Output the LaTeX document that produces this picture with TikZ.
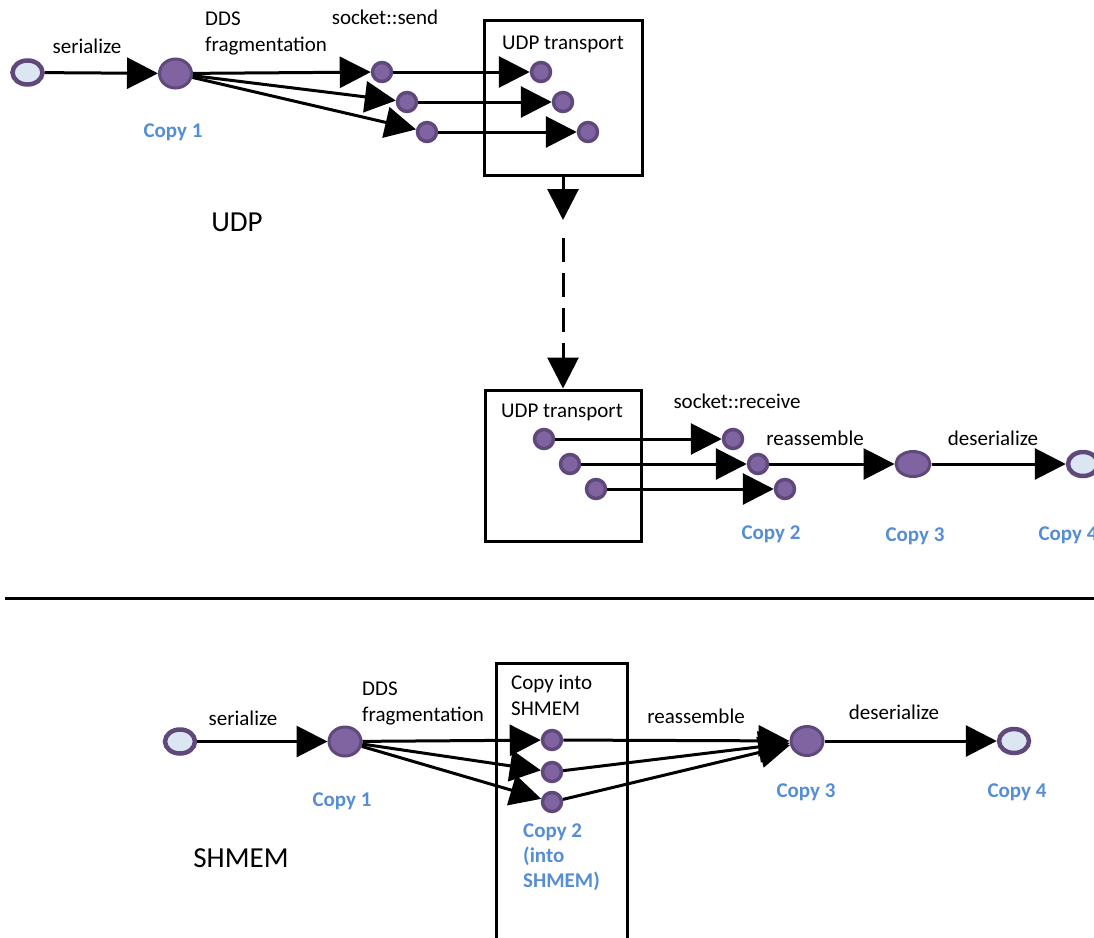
\documentclass[tikz,border=0pt]{standalone}
\usepackage{fontspec}
\setmainfont{Carlito}
\usetikzlibrary{arrows.meta,shapes.geometric}
\definecolor{pfill}{HTML}{8064A2}
\definecolor{pline}{HTML}{5F497A}
\definecolor{lfill}{HTML}{DCE6F2}
\definecolor{cblue}{HTML}{558ED5}
\begin{document}
\begin{tikzpicture}[x=1pt,y=-1pt,
  lbl/.style={font=\fontsize{21}{26}\selectfont, inner sep=0pt},
  cpy/.style={font=\fontsize{21}{25}\selectfont\bfseries, text=cblue, inner sep=0pt},
  bigtxt/.style={font=\fontsize{29}{34}\selectfont, inner sep=0pt},
  endpt/.style={ellipse, draw=pline, fill=lfill, line width=4.5pt, minimum width=30pt, minimum height=24pt, inner sep=0pt},
  bignode/.style={ellipse, draw=pline, fill=pfill, line width=3pt, minimum width=32pt, minimum height=29pt, inner sep=0pt},
  frag/.style={circle, draw=pline, fill=pfill, line width=3.5pt, minimum size=19pt, inner sep=0pt},
  conn/.style={line width=3pt, -{Triangle[length=31pt,width=31pt]}},
  boxstyle/.style={draw, line width=3pt, inner sep=0pt},
]
\useasboundingbox (0,0) rectangle (1094,937);

% ---------- UDP (top) ----------
\node[boxstyle, minimum width=158pt, minimum height=155pt] (tbox) at (563,97.5) {};
\node[boxstyle, minimum width=156pt, minimum height=151pt] (rbox) at (563,465.5) {};
\node[lbl] (tboxlbl) at (563,44) {UDP transport};
\node[lbl] (rboxlbl) at (562,412) {UDP transport};

\node[endpt] (st1) at (27.5,72.5) {};
\node[bignode] (c1) at (175.5,73.5) {};
\node[frag] (s1) at (382,72) {};
\node[frag] (s2) at (407,102) {};
\node[frag] (s3) at (427,132) {};
\node[frag] (u1) at (541,72) {};
\node[frag] (u2) at (563,102) {};
\node[frag] (u3) at (588,132) {};

\node[lbl] (lser1) at (87,46) {serialize};
\node[lbl, align=left, anchor=west] (lfrag1) at (205,33) {DDS\\fragmentation};
\node[lbl] (lsend) at (385,17) {socket::send};
\node[cpy] (lc1) at (173,132) {Copy 1};
\node[bigtxt] (ludp) at (237,222) {UDP};

\draw[conn] (st1) -- (c1);
\draw[conn] (c1) -- (s1);
\draw[conn] (c1) -- (s2);
\draw[conn] (c1) -- (s3);
\draw[conn] (s1) -- (u1);
\draw[conn] (s2) -- (u2);
\draw[conn] (s3) -- (u3);

\coordinate (mid) at (563,220);
\coordinate (mid2) at (563,238);
\draw[conn] (tbox.south) -- (mid);
\draw[conn, dash pattern=on 24pt off 11pt] (mid2) -- (rbox.north);

\node[frag] (r1) at (544,439) {};
\node[frag] (r2) at (570,464) {};
\node[frag] (r3) at (596,489) {};
\node[frag] (t1) at (733,439) {};
\node[frag] (t2) at (758,464) {};
\node[frag] (t3) at (785,489) {};
\node[bignode, minimum width=34pt, minimum height=25pt] (c3) at (913,464) {};
\node[endpt] (c4) at (1083,464) {};

\node[lbl] (lrecv) at (737,401) {socket::receive};
\node[lbl] (lreas1) at (815,438) {reassemble};
\node[lbl] (ldes1) at (993,438) {deserialize};
\node[cpy] (lc2) at (771,534) {Copy 2};
\node[cpy] (lc3) at (915,536) {Copy 3};
\node[cpy] (lc4) at (1068,535) {Copy 4};

\draw[conn] (r1) -- (t1);
\draw[conn] (r2) -- (t2);
\draw[conn] (r3) -- (t3);
\draw[conn] (t2) -- (c3);
\draw[conn] (c3) -- (c4);

% ---------- separator ----------
\coordinate (sepL) at (5,598);
\coordinate (sepR) at (1100,598);
\draw[line width=3pt] (sepL) -- (sepR);

% ---------- SHMEM (bottom) ----------
\node[boxstyle, minimum width=131pt, minimum height=290pt] (sbox) at (561.5,808) {};
\node[lbl, align=left, anchor=west] (lcopyin) at (511,695.5) {Copy into\\SHMEM};

\node[endpt] (bst) at (180,741.5) {};
\node[bignode] (bc1) at (345,741.5) {};
\node[frag] (m1) at (552,740) {};
\node[frag] (m2) at (552,772) {};
\node[frag] (m3) at (552,802) {};
\node[bignode] (bc3) at (807,741) {};
\node[endpt] (bc4) at (1014,741) {};

\node[lbl] (lser2) at (243,718) {serialize};
\node[lbl, align=left, anchor=west] (lfrag2) at (362,703) {DDS\\fragmentation};
\node[lbl] (lreas2) at (696,716) {reassemble};
\node[lbl] (ldes2) at (894,712) {deserialize};
\node[cpy] (blc1) at (342,801) {Copy 1};
\node[cpy] (blc3) at (806,792) {Copy 3};
\node[cpy] (blc4) at (1017,792) {Copy 4};
\node[cpy, align=left, anchor=west] (blc2) at (523,857) {Copy 2\\(into\\SHMEM)};
\node[bigtxt] (lshm) at (241,858) {SHMEM};

\draw[conn] (bst) -- (bc1);
\draw[conn] (bc1) -- (m1);
\draw[conn] (bc1) -- (m2);
\draw[conn] (bc1) -- (m3);
\draw[conn] (m1) -- (bc3);
\draw[conn] (m2) -- (bc3);
\draw[conn] (m3) -- (bc3);
\draw[conn] (bc3) -- (bc4);
\end{tikzpicture}
\end{document}
